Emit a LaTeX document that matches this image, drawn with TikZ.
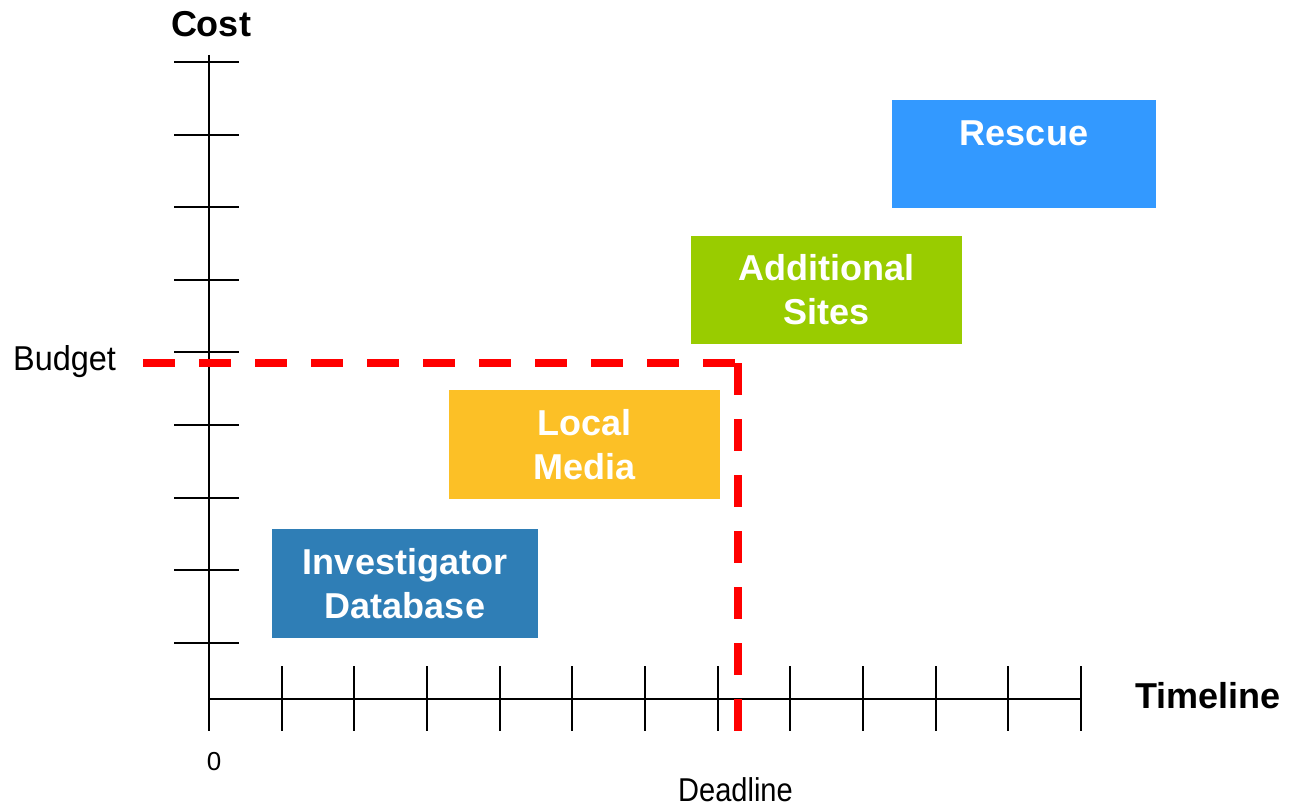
\documentclass[tikz,border=0pt]{standalone}
\usepackage{fontspec}
\setmainfont{Liberation Sans}
\newfontfamily\deadfont[FakeStretch=0.88]{Liberation Sans}
\newfontfamily\budgetfont[FakeStretch=0.94]{Liberation Sans}
\begin{document}
\definecolor{rescueblue}{HTML}{3399FF}
\definecolor{sitesgreen}{HTML}{99CC00}
\definecolor{mediayellow}{HTML}{FCC026}
\definecolor{dbblue}{HTML}{2F7EB6}
\begin{tikzpicture}[x=1pt,y=-1pt,
  axisline/.style={draw=black,line width=2pt},
  tickline/.style={draw=black,line width=2pt},
  limitline/.style={draw=red,line width=8.5pt,dash pattern=on 32pt off 24pt,line cap=butt},
  phasebox/.style={rectangle,inner sep=0pt,text=white,align=center,
    font=\fontsize{36}{44}\selectfont\bfseries},
  axislabel/.style={inner sep=0pt,font=\fontsize{36}{44}\selectfont\bfseries}]
\useasboundingbox (0,0) rectangle (1291,808);

% phase boxes
\node[phasebox,fill=rescueblue,minimum width=264pt,minimum height=108pt] (rescue) at (1024,154) {};
\node[phasebox,anchor=base] (rescuetext) at (1024,145) {Rescue};
\node[phasebox,fill=sitesgreen,minimum width=271pt,minimum height=108pt] (sites) at (826.5,290) {Additional\\Sites};
\node[phasebox,fill=mediayellow,minimum width=271pt,minimum height=109pt] (media) at (584.5,444.5) {Local\\Media};
\node[phasebox,fill=dbblue,minimum width=266pt,minimum height=109pt] (db) at (405,583.5) {Investigator\\Database};

% axes
\draw[axisline] (209,55) -- (209,731);
\draw[axisline] (209,699) -- (1081,699);
\foreach \k in {0,...,8}
  \draw[tickline] (174,{62+72.6*\k}) -- (239,{62+72.6*\k});
\foreach \k in {1,...,12}
  \draw[tickline] ({209+72.67*\k},666) -- ({209+72.67*\k},731);

% budget and deadline limits
\coordinate (bstart) at (143,363);
\coordinate (corner) at (738,363);
\coordinate (dend) at (738,731);
\draw[limitline] (bstart) -- (735,363);
\draw[limitline] (corner) -- (dend);

% labels
\node[axislabel,anchor=base] (cost) at (211,37) {Cost};
\node[axislabel,anchor=base west] (timeline) at (1135,708) {Timeline};
\node[inner sep=0pt,anchor=base west,font=\budgetfont\fontsize{34.5}{40}\selectfont] (budget) at (13,370.5) {Budget};
\node[inner sep=0pt,anchor=base,font=\deadfont\fontsize{33}{38}\selectfont] (deadline) at (735.5,801.5) {Deadline};
\node[inner sep=0pt,anchor=base,font=\fontsize{26}{30}\selectfont] (zero) at (214,770) {0};
\end{tikzpicture}
\end{document}
